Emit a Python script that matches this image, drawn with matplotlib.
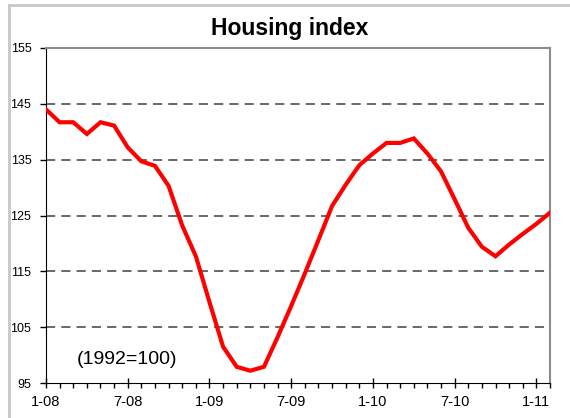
import numpy as np
import matplotlib
matplotlib.use('Agg')
import matplotlib.pyplot as plt
from matplotlib.lines import Line2D
from matplotlib.ticker import MultipleLocator

# monthly housing index, Jan 2008 .. Feb 2011 (1992=100)
index_values = [144.0, 141.7, 141.7, 139.6, 141.7, 141.1, 137.2, 134.7, 133.9, 130.3,
                123.2, 117.7, 109.5, 101.5, 97.9, 97.2, 97.9, 103.2, 108.8, 114.6,
                120.6, 126.7, 130.5, 134.0, 136.1, 138.0, 138.0, 138.8, 136.1, 132.9,
                127.9, 122.8, 119.4, 117.7, 119.8, 121.7, 123.5, 125.5]
tick_labels = ['1-08', '7-08', '1-09', '7-09', '1-10', '7-10', '1-11']
y_ticks = [95, 105, 115, 125, 135, 145, 155]

plt.rcParams['font.family'] = ['Liberation Sans', 'DejaVu Sans']

fig = plt.figure(figsize=(5.7, 4.18), dpi=100)
ax = fig.add_axes([46/570, 1 - 383/418, 504/570, 335/418])

x = np.arange(len(index_values))
ax.plot(x, index_values, color='#ff0000', lw=3, solid_joinstyle='miter', zorder=3)

ax.set_xlim(0, len(index_values) - 1)
ax.set_ylim(95, 155)
ax.set_yticks(y_ticks)
ax.set_xticks(np.arange(0, len(index_values), 6))
ax.set_xticklabels(tick_labels)
ax.xaxis.set_minor_locator(MultipleLocator(1))

for yv in y_ticks[1:-1]:
    ax.axhline(yv, color='#404040', lw=1.1, dashes=(6, 4), zorder=1)

ax.tick_params(axis='y', direction='out', length=4, width=1, pad=6.5, labelsize=9)
ax.tick_params(axis='x', which='major', direction='inout', length=7, width=1, pad=5, labelsize=10.5)
ax.tick_params(axis='x', which='minor', direction='out', length=3.5, width=1)

ax.spines['left'].set_color('black')
ax.spines['bottom'].set_color('black')
ax.spines['top'].set_color('#8c8c8c')
ax.spines['right'].set_color('#8c8c8c')
ax.spines['top'].set_linewidth(1.5)
ax.spines['right'].set_linewidth(1.5)

fig.text(0.508, 1 - 35/418, 'Housing index', ha='center', va='baseline',
         fontsize=16.5, fontweight='bold')
fig.text(77/570, 1 - 364/418, '(1992=100)', ha='left', va='baseline', fontsize=14)

# outer chart border, cropped on the right and bottom
fig.add_artist(Line2D([8.5/570, 8.5/570], [0, 1 - 5/418], transform=fig.transFigure,
                      color='#c8c8c8', lw=2))
fig.add_artist(Line2D([8.5/570, 1], [1 - 5/418, 1 - 5/418], transform=fig.transFigure,
                      color='#c8c8c8', lw=2))

fig.savefig('out.png', dpi=100)
